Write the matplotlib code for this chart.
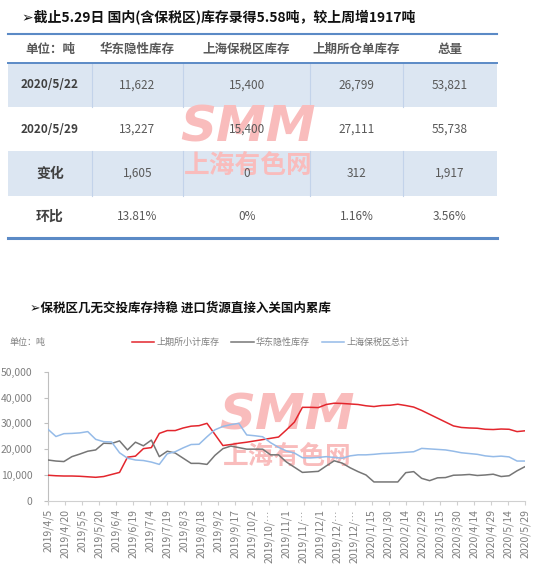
import pandas as pd
import matplotlib
matplotlib.use("Agg")
import matplotlib.pyplot as plt
from matplotlib.patches import Rectangle

plt.rcParams['font.family'] = ['Noto Sans CJK SC', 'DejaVu Sans']

W, H = 546, 570

# --- table data ---
TITLE_TOP = "➢截止5.29日 国内(含保税区)库存录得5.58吨，较上周增1917吨"
TABLE_HEADER = ["单位：吨", "华东隐性库存", "上海保税区库存", "上期所仓单库存", "总量"]
ROW_LABELS = ["2020/5/22", "2020/5/29", "变化", "环比"]
ROW_VALUES = [
    ["11,622", "15,400", "26,799", "53,821"],
    ["13,227", "15,400", "27,111", "55,738"],
    ["1,605", "0", "312", "1,917"],
    ["13.81%", "0%", "1.16%", "3.56%"],
]

# --- chart data (weekly, 2019/4/5 .. 2020/5/29) ---
TITLE_CHART = "➢保税区几无交投库存持稳 进口货源直接入关国内累库"
SERIES_NAMES = ["上期所小计库存", "华东隐性库存", "上海保税区总计"]
shfe = [9900, 9700, 9600, 9600, 9500, 9300, 9100, 9400, 10200, 11000,
        16900, 17300, 20200, 20600, 26100, 27200, 27200, 28200, 28900, 29100,
        30000, 25700, 21400, 21800, 22300, 22700, 23200, 23700, 24200, 24700,
        27500, 30500, 36200, 36200, 36100, 37300, 37800, 37700, 37500, 37300,
        36800, 36500, 36900, 37000, 37400, 36900, 36300, 35000, 33500, 32000,
        30500, 29000, 28400, 28200, 28100, 27700, 27600, 27800, 27700, 26799,
        27111]
east = [15800, 15400, 15200, 17100, 18100, 19200, 19700, 22300, 22200, 23200,
        19700, 22700, 21300, 23500, 17100, 19200, 18500, 16500, 14500, 14500,
        14100, 17600, 20200, 21200, 20600, 20000, 20000, 20000, 17800, 17800,
        15000, 13000, 11000, 11200, 11400, 13500, 15500, 14600, 12800, 11300,
        10000, 7300, 7300, 7300, 7300, 10900, 11300, 8700, 7800, 8900,
        9000, 9900, 10000, 10200, 9800, 10000, 10300, 9400, 9700, 11622,
        13227]
bonded = [27700, 24900, 26000, 26100, 26300, 26800, 23800, 22900, 22800, 18600,
          16500, 15800, 15600, 15000, 14100, 18200, 19000, 20500, 21800, 21900,
          24800, 27500, 28800, 29500, 30000, 25500, 25200, 24800, 22500, 20700,
          19300, 18500, 16700, 16600, 16800, 17100, 16800, 16500, 17400, 17800,
          17800, 18000, 18300, 18400, 18600, 18800, 19000, 20300, 20100, 19900,
          19700, 19200, 18600, 18300, 18000, 17400, 17100, 17300, 17000, 15400,
          15400]
SERIES_COLORS = ["#e3262d", "#767676", "#95bbe8"]

dates = pd.date_range("2019-04-05", periods=len(shfe), freq="7D")
tick_dates = pd.date_range("2019-04-05", "2020-05-29", freq="15D")

fig = plt.figure(figsize=(W / 100, H / 100), dpi=100)
bg = fig.add_axes([0, 0, 1, 1])
bg.set_xlim(0, W)
bg.set_ylim(H, 0)
bg.axis("off")


def watermark(cx, y_smm, y_cn):
    bg.text(cx, y_smm, "SMM", ha="center", va="center", fontsize=36,
            fontweight="heavy", style="italic", color="#f9bcbc",
            family="DejaVu Sans", zorder=1)
    bg.text(cx, y_cn, "上海有色网", ha="center", va="center", fontsize=18.5,
            fontweight="bold", color="#f9bcbc", zorder=1)


# --- top title + table ---
bg.text(22, 18, TITLE_TOP, ha="left", va="center", fontsize=10,
        fontweight="bold", color="#111111")

col_edges = [8.3, 91.7, 183.3, 310, 403.3, 496.7]
row_edges = [33.5, 62.5, 107.3, 151.3, 195.7, 238.3]
blue = "#5b8ac6"
for r in (1, 3):
    y0, y1 = row_edges[r], row_edges[r + 1]
    bg.add_patch(Rectangle((col_edges[0], y0), col_edges[-1] - col_edges[0],
                           y1 - y0, facecolor="#dce6f2", edgecolor="none", zorder=0))
    for xe in col_edges[1:-1]:
        bg.plot([xe, xe], [y0, y1], color="#c3d3ea", lw=0.8, zorder=0.5)

watermark(248, 128, 165)

bg.plot([col_edges[0], col_edges[-1]], [row_edges[0]] * 2, color=blue, lw=1.5)
bg.plot([col_edges[0], col_edges[-1]], [row_edges[1]] * 2, color=blue, lw=1.4)
bg.plot([col_edges[0], col_edges[-1]], [row_edges[-1]] * 2, color=blue, lw=2.2)

centers = [(a + b) / 2 for a, b in zip(col_edges[:-1], col_edges[1:])]
hy = (row_edges[0] + row_edges[1]) / 2 + 1
for cx, lab in zip(centers, TABLE_HEADER):
    bg.text(cx, hy, lab, ha="center", va="center", fontsize=9,
            fontweight="bold", color="#595959", zorder=3)
for i, (lab, vals) in enumerate(zip(ROW_LABELS, ROW_VALUES)):
    cy = (row_edges[i + 1] + row_edges[i + 2]) / 2
    fs = 8.5 if "/" in lab else 10
    bg.text(centers[0], cy, lab, ha="center", va="center", fontsize=fs,
            fontweight="bold", color="#404040", zorder=3)
    for cx, v in zip(centers[1:], vals):
        bg.text(cx, cy, v, ha="center", va="center", fontsize=8.5,
                color="#595959", zorder=3)

# --- chart section ---
bg.text(30, 308, TITLE_CHART, ha="left", va="center", fontsize=9,
        fontweight="bold", color="#111111")
bg.text(9, 342, "单位：吨", ha="left", va="center", fontsize=6.5, color="#7f7f7f")
leg_x = [131.7, 231, 321.7]
for lx, name, c in zip(leg_x, SERIES_NAMES, SERIES_COLORS):
    bg.plot([lx, lx + 22.5], [342, 342], color=c, lw=1.1)
    bg.text(lx + 25, 342, name, ha="left", va="center", fontsize=6.5, color="#7f7f7f")

watermark(287, 416, 456)

ax = fig.add_axes([48 / W, (H - 500.8) / H, 477 / W, 129.1 / H])
ax.set_facecolor("none")
for vals, c in zip([shfe, east, bonded], SERIES_COLORS):
    ax.plot(dates, vals, color=c, lw=1.1, zorder=3)

ax.set_xlim(dates[0], dates[-1])
ax.set_ylim(0, 50000)
ax.set_yticks(range(0, 50001, 10000))
ax.set_yticklabels([f"{v:,}" for v in range(0, 50001, 10000)])

labels = []
for d in tick_dates:
    s = f"{d.year}/{d.month}/{d.day}"
    labels.append(s if len(s) <= 9 else s[:8] + "…")
ax.set_xticks(tick_dates)
ax.set_xticklabels(labels, rotation=90, ha="center", va="top")

for side in ("top", "right"):
    ax.spines[side].set_visible(False)
ax.spines["left"].set_color("#bfbfbf")
ax.spines["bottom"].set_color("#d0d0d0")
ax.tick_params(axis="y", length=3, color="#bfbfbf", labelsize=7.5,
               labelcolor="#7f7f7f", pad=8)
ax.tick_params(axis="x", length=3, color="#d0d0d0", labelsize=7.5,
               labelcolor="#7f7f7f", pad=3)

fig.savefig("out.png", dpi=100)
